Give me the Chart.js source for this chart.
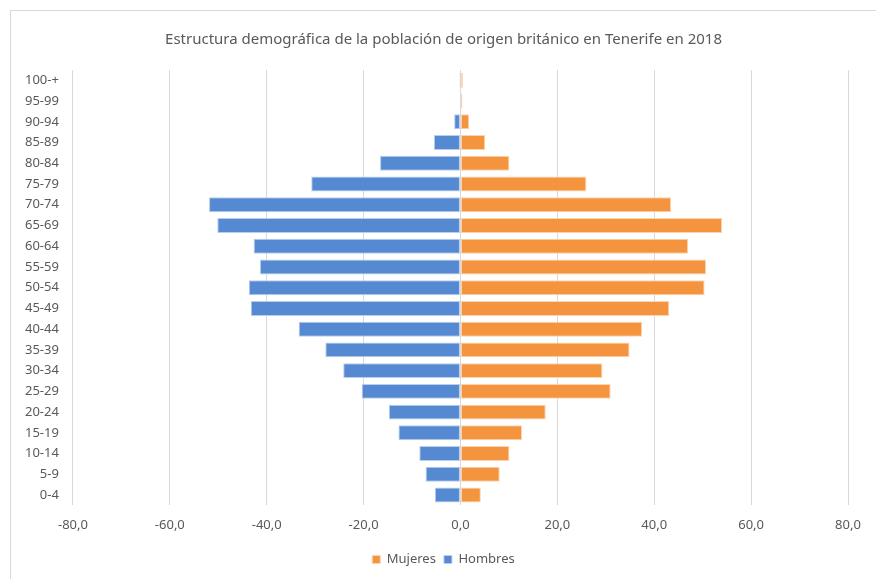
<!DOCTYPE html>
<html lang="es">
<head>
  <meta charset="UTF-8" />
  <title>Estructura demográfica</title>
  <script src="https://cdn.jsdelivr.net/npm/chart.js"></script>
  <style>
    html, body { margin: 0; padding: 0; background: #fff; overflow: hidden; }
    .marco {
      position: absolute; left: 10px; top: 10px;
      width: 866px; height: 572px;
      border: 1px solid #d9d9d9; border-right: none; border-bottom: none;
    }
  </style>
</head>
<body>
  <div class="marco">
    <canvas id="piramide" width="865" height="571"></canvas>
  </div>

  <script>
    // Grupos de edad (de abajo a arriba)
    const edades = ['0-4', '5-9', '10-14', '15-19', '20-24', '25-29', '30-34', '35-39', '40-44',
      '45-49', '50-54', '55-59', '60-64', '65-69', '70-74', '75-79', '80-84', '85-89',
      '90-94', '95-99', '100-+'];
    // Hombres en negativo para la pirámide
    const hombres = [-5.3, -7.2, -8.5, -12.8, -14.8, -20.4, -24.2, -27.9, -33.4,
      -43.3, -43.7, -41.4, -42.7, -50.2, -51.9, -30.8, -16.6, -5.5, -1.3, 0, -0.2];
    const mujeres = [4.2, 8.1, 10.1, 12.7, 17.6, 31.0, 29.3, 34.9, 37.5,
      43.1, 50.4, 50.7, 47.0, 54.0, 43.5, 26.0, 10.1, 5.1, 1.8, 0.4, 0.5];
    const ticksX = [-80, -60, -40, -20, 0, 20, 40, 60, 80];

    const fuente = "'Noto Sans', sans-serif";
    const gris = '#595959';

    new Chart(document.getElementById('piramide'), {
      type: 'bar',
      data: {
        labels: edades,
        datasets: [
          {
            label: 'Mujeres',
            data: mujeres,
            backgroundColor: '#f5943f',
            borderColor: '#fbd3b0',
            borderWidth: 1,
            borderSkipped: false
          },
          {
            label: 'Hombres',
            data: hombres,
            backgroundColor: '#558ad2',
            borderColor: '#b9cdec',
            borderWidth: 1,
            borderSkipped: false
          }
        ]
      },
      options: {
        indexAxis: 'y',
        responsive: false,
        animation: false,
        datasets: { bar: { categoryPercentage: 1, barPercentage: 0.72 } },
        layout: { padding: { left: 0, right: 0, top: 0, bottom: 6 } },
        plugins: {
          title: {
            display: true,
            text: 'Estructura demográfica de la población de origen británico en Tenerife en 2018',
            color: gris,
            font: { family: fuente, size: 15, weight: 'normal' },
            padding: { top: 20, bottom: 21 }
          },
          legend: {
            position: 'bottom',
            labels: {
              color: gris,
              font: { family: fuente, size: 13 },
              boxWidth: 8, boxHeight: 8,
              padding: 8
            }
          },
          tooltip: { enabled: false }
        },
        scales: {
          x: {
            stacked: true,
            min: -80, max: 80,
            afterBuildTicks: (axis) => { axis.ticks = ticksX.map(v => ({ value: v })); },
            grid: { color: '#d9d9d9', drawTicks: false, lineWidth: 1 },
            border: { display: false },
            ticks: {
              color: gris,
              font: { family: fuente, size: 13 },
              padding: 12,
              callback: (v) => v.toFixed(1).replace('.', ',')
            }
          },
          y: {
            stacked: true,
            reverse: true,
            grid: { display: false, drawTicks: false },
            border: { display: false },
            ticks: {
              color: gris,
              font: { family: fuente, size: 13 },
              padding: 14
            }
          },
          // margen derecho vacío, para que título y leyenda queden centrados
          margen: {
            type: 'linear',
            position: 'right',
            grid: { display: false, drawTicks: false },
            border: { display: false },
            ticks: { display: false },
            afterFit: (s) => { s.width = 28; }
          }
        }
      }
    });
  </script>
</body>
</html>
